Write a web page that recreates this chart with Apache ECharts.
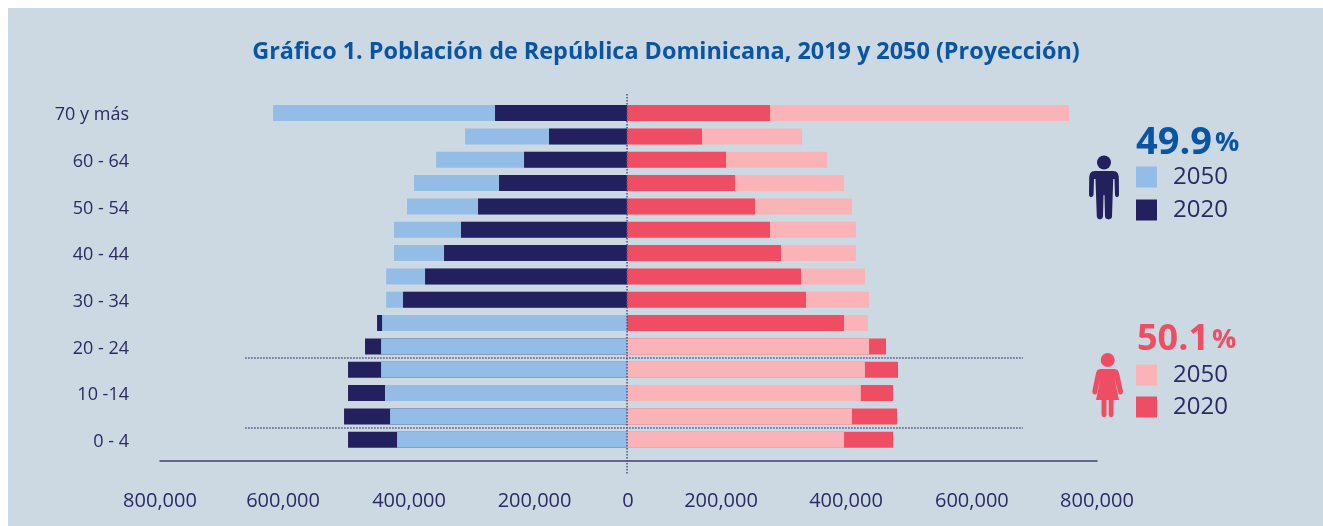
<!DOCTYPE html>
<html>
<head>
<meta charset="utf-8">
<title>Población de República Dominicana</title>
<script src="https://cdn.jsdelivr.net/npm/echarts@6/dist/echarts.min.js"></script>
<style>
    html, body { margin: 0; padding: 0; background: #fff; }
    #chart { width: 1323px; height: 526px; }
</style>
</head>
<body>
<div id="chart"></div>
<script>
    var ageGroups = ['70 y más', '65 - 69', '60 - 64', '55 - 59', '50 - 54', '45 - 49', '40 - 44', '35 - 39',
        '30 - 34', '25 - 29', '20 - 24', '15 - 19', '10 -14', '5 - 9', '0 - 4'];
    var men2050 = [602500, 275700, 325000, 362500, 374500, 396600, 396600, 410000,
        410000, 417000, 418700, 418700, 412000, 403400, 391500];
    var men2020 = [224700, 132800, 175300, 217900, 253600, 282600, 311500, 343800,
        381300, 425500, 446000, 474900, 474900, 481700, 474900];
    var women2050 = [752300, 297900, 340400, 369400, 383000, 389800, 389800, 405000,
        412000, 410000, 412000, 405000, 398000, 383000, 369400];
    var women2020 = [243400, 127700, 168500, 183800, 217900, 243400, 262000, 296200,
        304700, 369400, 440900, 461300, 452800, 459600, 452800];
    var tickLabels = ['800,000', '600,000', '400,000', '200,000', '0', '200,000', '400,000', '600,000', '800,000'];
    // the labels in the picture are not evenly spaced, so they get their own spots on the axis
    var tickSpots = [-795000, -585500, -371000, -157400, 1700, 160000, 372800, 587000, 800000];

    var NAVY = '#23205e', SKY = '#93bce6', PINK = '#fab3b6', RED = '#ef4d63';
    var TEXT = '#2b2a63', BLUE = '#0a54a4', PANEL = '#ccd9e3';
    var FONT = '"Open Sans", "Noto Sans", sans-serif';

    // the shorter bar of each row goes in front, so a year is split in two layers
    function layer(values, others, sign, front) {
        return values.map(function (v, i) {
            return (v < others[i]) === front ? sign * v : null;
        });
    }

    function barSeries(name, color, data) {
        return {
            name: name,
            type: 'bar',
            data: data,
            barWidth: 16,
            barGap: '-100%',
            silent: true,
            itemStyle: { color: color }
        };
    }

    function yearLegend(top, itemGap, names) {
        return {
            left: 1136,
            top: top,
            padding: 0,
            orient: 'vertical',
            selectedMode: false,
            icon: 'rect',
            itemWidth: 21,
            itemHeight: 21,
            itemGap: itemGap,
            data: names,
            formatter: function (name) {
                return name.slice(-4);
            },
            textStyle: { color: TEXT, fontFamily: FONT, fontSize: 24, lineHeight: 21, padding: [7, 0, 0, 11] }
        };
    }

    function shareTitle(text, left, top, color, size) {
        return {
            text: '{a|' + text + '}{b|%}',
            left: left,
            top: top,
            padding: 0,
            textStyle: {
                rich: {
                    a: { color: color, fontFamily: FONT, fontWeight: 'bold', fontSize: size },
                    b: { color: color, fontFamily: FONT, fontWeight: 'bold', fontSize: 27, padding: [0, 0, 0, 3] }
                }
            }
        };
    }

    var chart = echarts.init(document.getElementById('chart'));
    chart.setOption({
        animation: false,
        title: [{
            text: 'Gráfico 1. Población de República Dominicana, 2019 y 2050 (Proyección)',
            left: 666,
            top: 41,
            textAlign: 'center',
            padding: 0,
            textStyle: { color: BLUE, fontFamily: FONT, fontWeight: 'bold', fontSize: 23.4 }
        }, shareTitle('49.9', 1136, 124, BLUE, 38), shareTitle('50.1', 1137, 322, RED, 36)],
        legend: [
            yearLegend(163, 5, ['Hombres 2050', 'Hombres 2020']),
            yearLegend(361, 4, ['Mujeres 2050', 'Mujeres 2020'])
        ],
        grid: { left: 160, top: 101.4, width: 937, height: 350 },
        xAxis: {
            type: 'value',
            min: -795000,
            max: 800000,
            offset: 9.6,
            splitLine: { show: false },
            axisTick: { show: false },
            axisLine: { show: true, lineStyle: { color: '#3f3d74', width: 1.5 } },
            axisLabel: {
                customValues: tickSpots,
                color: TEXT,
                fontFamily: FONT,
                fontSize: 20,
                margin: 30,
                formatter: function (value) {
                    return tickLabels[tickSpots.indexOf(value)];
                }
            }
        },
        yAxis: {
            type: 'category',
            inverse: true,
            data: ageGroups,
            axisLine: { show: false },
            axisTick: { show: false },
            axisLabel: {
                interval: 1,
                margin: 31,
                formatter: function (value) {
                    return '{age|' + value + '}';
                },
                rich: {
                    age: { color: TEXT, fontFamily: FONT, fontSize: 18, padding: [4, 0, 0, 0] }
                }
            }
        },
        series: [
            barSeries('Hombres 2050', SKY, layer(men2050, men2020, -1, false)),
            barSeries('Hombres 2020', NAVY, men2020.map(function (v) { return -v; })),
            barSeries('Hombres 2050', SKY, layer(men2050, men2020, -1, true)),
            barSeries('Mujeres 2050', PINK, layer(women2050, women2020, 1, false)),
            barSeries('Mujeres 2020', RED, women2020),
            barSeries('Mujeres 2050', PINK, layer(women2050, women2020, 1, true))
        ]
    });

    // dotted guides run past the plot area, so they are placed from the axis scale
    function dotted(x1, y1, x2, y2) {
        return {
            type: 'line',
            z: 10,
            silent: true,
            shape: { x1: x1, y1: y1, x2: x2, y2: y2 },
            style: { stroke: '#4f4e80', lineWidth: 1.5, lineDash: [1.5, 1.5] }
        };
    }

    function icon(points, color) {
        return { type: 'polygon', silent: true, shape: { points: points }, style: { fill: color } };
    }

    var manBody = [[1095, 171], [1113, 171], [1116, 171.6], [1118, 173.5], [1118.8, 177], [1119, 195], [1118.4, 196.6], [1117, 197.2],
        [1115.6, 196.6], [1115, 195], [1114.5, 179], [1113.2, 179], [1112, 216.5], [1111.3, 218.6], [1108.5, 219.5], [1105.8, 218.6], [1105, 216.5],
        [1104.5, 195], [1103.5, 195], [1103, 216.5], [1102.2, 218.6], [1100, 219.5], [1097.6, 218.6], [1096.8, 216.5], [1095.5, 179], [1094, 179],
        [1093.5, 195], [1092.6, 196.6], [1091, 197.2], [1089.6, 196.6], [1089, 195], [1089.2, 177], [1090, 173.5], [1092, 171.6]];
    var womanBody = [[1100, 369], [1115, 369], [1117.6, 370], [1119, 373], [1123, 391], [1122.6, 393.6], [1121, 394.6], [1119, 394.4], [1118.3, 392.5],
        [1114.5, 378], [1119, 400], [1113.5, 400], [1113.5, 415], [1112.8, 416.5], [1111, 417.2], [1109.4, 416.5], [1108.7, 415], [1108.7, 400],
        [1106.5, 400], [1106.5, 415], [1105.8, 416.5], [1104, 417.2], [1102.2, 416.5], [1101.5, 415], [1101.5, 400], [1096, 400], [1100.5, 378],
        [1097, 392.5], [1096.3, 394.4], [1094.4, 394.6], [1092.6, 393.6], [1092.3, 391], [1096, 373], [1097.4, 370]];

    var zeroX = chart.convertToPixel({ xAxisIndex: 0 }, 0);
    var guideLeft = chart.convertToPixel({ xAxisIndex: 0 }, -650000);
    var guideRight = chart.convertToPixel({ xAxisIndex: 0 }, 674000);
    var rowBelow15 = (chart.convertToPixel({ yAxisIndex: 0 }, '20 - 24') + chart.convertToPixel({ yAxisIndex: 0 }, '15 - 19')) / 2;
    var rowBelow5 = (chart.convertToPixel({ yAxisIndex: 0 }, '5 - 9') + chart.convertToPixel({ yAxisIndex: 0 }, '0 - 4')) / 2;

    chart.setOption({
        graphic: [
            { type: 'rect', z: -10, silent: true, shape: { x: 8, y: 8, width: 1315, height: 518 }, style: { fill: PANEL } },
            dotted(zeroX, 94, zeroX, 474),
            dotted(guideLeft, rowBelow15, guideRight, rowBelow15),
            dotted(guideLeft, rowBelow5, guideRight, rowBelow5),
            // hombre
            { type: 'circle', silent: true, shape: { cx: 1104, cy: 162.5, r: 7 }, style: { fill: NAVY } },
            icon(manBody, NAVY),
            // mujer
            { type: 'circle', silent: true, shape: { cx: 1107.7, cy: 360, r: 7 }, style: { fill: RED } },
            icon(womanBody, RED)
        ]
    });
</script>
</body>
</html>
